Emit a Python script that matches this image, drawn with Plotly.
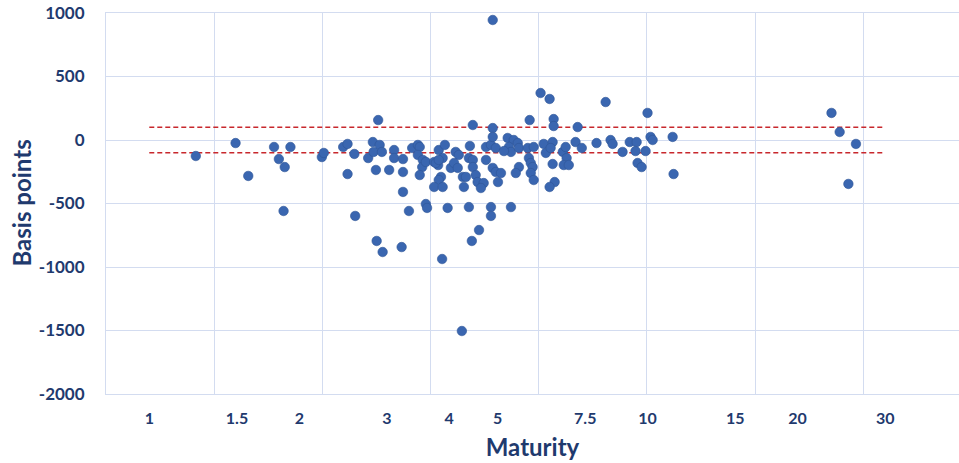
import math
import plotly.graph_objects as go

# Maturity (years) and deviation (basis points)
maturity = [
    1.24, 1.49, 1.58, 1.78, 1.82, 1.87, 1.92, 1.86, 2.22, 2.24,
    2.45, 2.50, 2.58, 2.50, 2.59, 2.75, 2.81, 2.82, 2.88, 2.90,
    2.93, 2.85, 2.86, 2.94, 3.03, 3.10, 3.10, 3.23, 3.23, 3.23,
    3.21, 3.32, 3.37, 3.46, 3.49, 3.46, 3.54, 3.53, 3.49, 3.59,
    3.59, 3.61, 3.73, 3.80, 3.81, 3.92, 3.88, 3.85, 3.81, 3.73,
    3.88, 3.87, 3.97, 4.03, 4.12, 4.18, 4.09, 4.16, 4.26, 4.28,
    4.24, 4.40, 4.46, 4.38, 4.44, 4.59, 4.38, 4.46, 4.46, 4.52,
    4.56, 4.69, 4.63, 4.74, 4.74, 4.85, 4.96, 4.89, 4.96, 5.08,
    5.01, 4.89, 4.89, 4.89, 4.85, 4.85, 5.32, 5.24, 5.39, 5.49,
    5.27, 5.32, 5.15, 5.52, 5.52, 5.44, 5.75, 5.78, 5.83, 5.88,
    5.83, 5.91, 5.91, 6.19, 6.25, 6.45, 6.39, 6.45, 6.51, 6.36,
    6.76, 6.85, 6.88, 6.79, 6.95, 7.17, 7.38, 5.80, 6.48, 6.48,
    7.24, 6.10, 6.36, 8.24, 10.0, 7.90, 8.43, 8.51, 9.21, 9.51,
    10.14, 10.24, 11.23, 8.91, 9.46, 9.91, 9.55, 9.73, 11.28, 23.4,
    24.3, 26.2, 25.3, 3.76, 3.81, 4.32,
]
basis_points = [
    -126, -24, -283, -55, -150, -213, -55, -559, -134, -102,
    -55, -31, -110, -268, -598, -142, -16, -94, 157, -39,
    -94, -236, -795, -882, -236, -79, -142, -150, -252, -409,
    -843, -559, -63, -39, -55, -118, -157, -213, -276, -173,
    -504, -535, -173, -197, -79, -39, -142, -291, -315, -370,
    -370, -937, -535, -220, -94, -118, -181, -220, -291, -370,
    -1504, -47, 118, -528, -795, -709, -142, -157, -213, -276,
    -331, -339, -378, -157, -55, -39, -63, -220, -252, -260,
    -331, 94, 24, 945, -528, -598, -528, 16, 0, -24,
    -55, -94, -87, -63, -213, -260, -63, -142, -181, -213,
    -260, -315, -55, -31, -102, -16, -63, -189, -331, -370,
    -94, -55, -142, -197, -197, -16, -63, 157, 165, 110,
    102, 370, 323, 299, 213, -24, 0, -31, -16, -16,
    24, 0, 24, -94, -87, -87, -181, -213, -268, 213,
    63, -31, -346, -181, -157, -291,
]

# Threshold band (+/- 100 bp) drawn from 1 to 30 years
band_x = [1, 30]
band_levels = [100, -100]

# Axis labels
tick_values = [1, 1.5, 2, 3, 4, 5, 7.5, 10, 15, 20, 30]
tick_labels = ["1", "1.5", "2", "3", "4", "5", "7.5", "10", "15", "20", "30"]
y_ticks = [1000, 500, 0, -500, -1000, -1500, -2000]
y_tick_labels = ["1000", "500", "0", "-500", "-1000", "-1500", "-2000"]

NAVY = "#1F3A6E"
GRID = "#D3DCF0"
FONT = "Lato"

# x range in natural-log units (-0.2 .. 3.742), gridlines every 0.5
ln_lo, ln_hi = -0.2, 3.742
x_range = [ln_lo / math.log(10), ln_hi / math.log(10)]
grid_vals = [math.exp(ln_lo + 0.5 * k) for k in range(8)]

fig = go.Figure()

for lvl in band_levels:
    fig.add_trace(go.Scatter(
        x=band_x, y=[lvl, lvl], mode="lines",
        line=dict(color="#C8282D", width=1.5, dash="5px,3px"),
        hoverinfo="skip", showlegend=False,
    ))

fig.add_trace(go.Scatter(
    x=maturity, y=basis_points, mode="markers",
    marker=dict(size=9.5, color="#3A66B0",
                line=dict(width=0.6, color="#2F5597")),
    showlegend=False,
))

# Invisible trace to activate the labelling axis
fig.add_trace(go.Scatter(x=[1], y=[0], xaxis="x2", mode="markers",
                         marker=dict(opacity=0), hoverinfo="skip",
                         showlegend=False))

fig.update_layout(
    width=959, height=463,
    margin=dict(l=106, r=0, t=13, b=69),
    paper_bgcolor="white", plot_bgcolor="white",
    font=dict(family=FONT, color=NAVY),
    xaxis=dict(
        type="log", range=x_range,
        tickvals=grid_vals, ticktext=[""] * len(grid_vals),
        showgrid=True, gridcolor=GRID, gridwidth=1,
        zeroline=False, ticks="", automargin=False,
        showline=True, mirror=True, linecolor=GRID, linewidth=1,
        title=dict(text="Maturity", standoff=42,
                   font=dict(family=FONT, size=24, color=NAVY, weight="bold")),
    ),
    xaxis2=dict(
        type="log", range=x_range, overlaying="x", side="bottom",
        tickvals=tick_values, ticktext=tick_labels,
        showgrid=False, zeroline=False, ticks="", automargin=False,
        ticklabelstandoff=13, ticklabeloverflow="allow",
        tickfont=dict(family=FONT, size=16, color=NAVY, weight="bold"),
    ),
    yaxis=dict(
        range=[-2000, 1000], tickvals=y_ticks, ticktext=y_tick_labels,
        showgrid=True, gridcolor=GRID, gridwidth=1,
        zeroline=False, ticks="", automargin=False,
        showline=True, linecolor=GRID, linewidth=1,
        ticklabelstandoff=17, ticklabeloverflow="allow",
        tickfont=dict(family=FONT, size=17, color=NAVY, weight="bold"),
    ),
    annotations=[dict(
        text="Basis points", textangle=-90, showarrow=False,
        xref="paper", yref="paper", x=0, y=0.5,
        xanchor="center", yanchor="middle", xshift=-85,
        font=dict(family=FONT, size=24, color=NAVY, weight="bold"),
    )],
)

# Remove the default page margin so the figure sits at the window origin
fig.write_html(
    "out.html",
    config={"displayModeBar": False},
    post_script="document.body.style.margin='0';document.body.style.overflow='hidden';",
)
